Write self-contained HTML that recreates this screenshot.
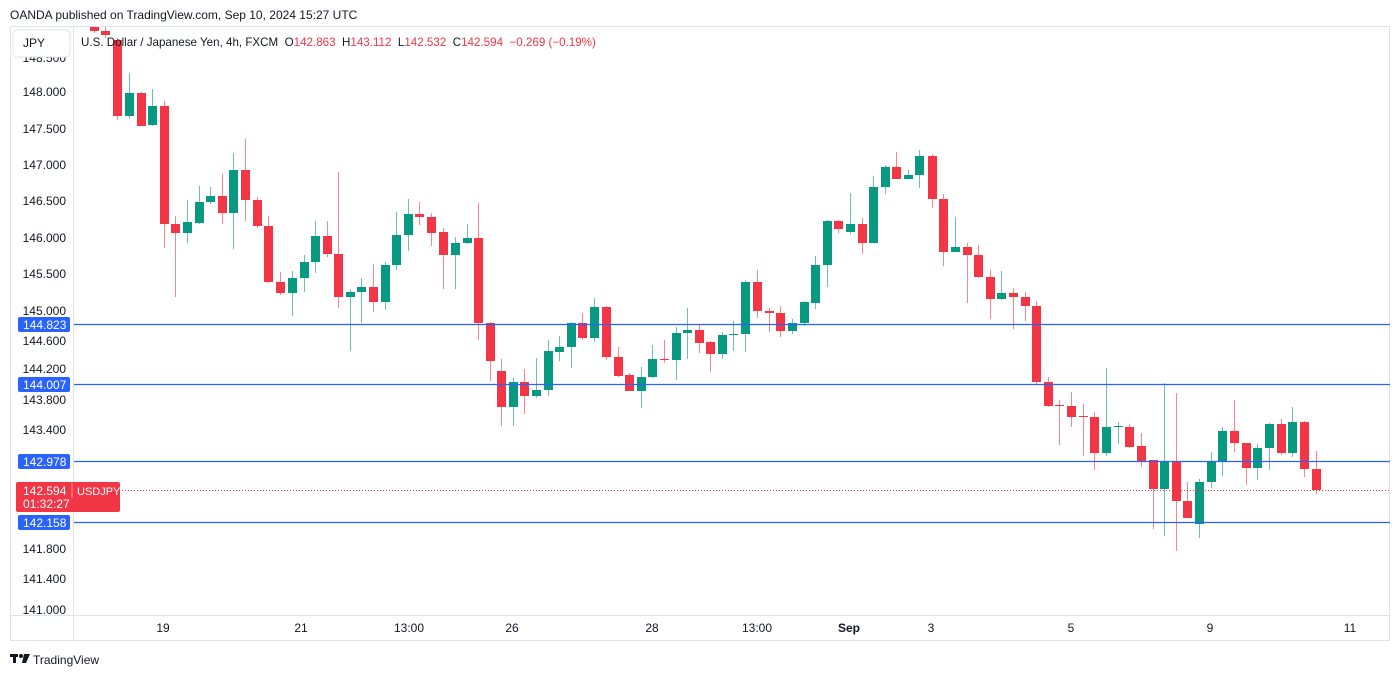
<!DOCTYPE html>
<html><head><meta charset="utf-8">
<style>
html,body{margin:0;padding:0;background:#fff;}
body{width:1400px;height:676px;position:relative;overflow:hidden;font-family:"Liberation Sans",sans-serif;}
svg{position:absolute;left:0;top:0;}
</style></head><body>
<svg id="s" width="1400" height="676" xmlns="http://www.w3.org/2000/svg" font-family="Liberation Sans, sans-serif">
<text x="10" y="19" font-size="12" fill="#131722">OANDA published on TradingView.com, Sep 10, 2024 15:27 UTC</text>
<rect x="10.5" y="26.5" width="1379" height="614" fill="none" stroke="#e0e3eb"/>
<line x1="73.5" y1="27" x2="73.5" y2="640" stroke="#e0e3eb"/>
<line x1="10" y1="615.5" x2="1390" y2="615.5" stroke="#e0e3eb"/>
<g id="c"></g>
<g stroke="#2962ff" stroke-width="1.2">
<line x1="74" y1="324.5" x2="1390" y2="324.5"/>
<line x1="74" y1="384.5" x2="1390" y2="384.5"/>
<line x1="74" y1="461.5" x2="1390" y2="461.5"/>
<line x1="74" y1="522.5" x2="1390" y2="522.5"/>
</g>
<line x1="74" y1="490.5" x2="1390" y2="490.5" stroke="#f23645" stroke-dasharray="1,2"/>
<g font-size="12" fill="#131722" text-anchor="end">
<text x="66" y="62">148.500</text>
<text x="66" y="96">148.000</text><text x="66" y="133">147.500</text><text x="66" y="169">147.000</text>
<text x="66" y="205">146.500</text><text x="66" y="242">146.000</text><text x="66" y="278">145.500</text>
<text x="66" y="315">145.000</text><text x="66" y="345">144.600</text><text x="66" y="373">144.200</text>
<text x="66" y="404">143.800</text><text x="66" y="434">143.400</text><text x="66" y="553">141.800</text>
<text x="66" y="583">141.400</text><text x="66" y="614">141.000</text>
</g>
<rect x="13" y="30" width="57" height="27" rx="4" fill="#fff" stroke="#e0e3eb"/>
<text x="23" y="47" font-size="12" fill="#131722">JPY</text>
<g font-size="12" fill="#fff">
<rect x="18" y="317" width="52" height="15" rx="2" fill="#2962ff"/><text x="23" y="329">144.823</text>
<rect x="18" y="377" width="52" height="15" rx="2" fill="#2962ff"/><text x="23" y="389">144.007</text>
<rect x="18" y="454" width="52" height="15" rx="2" fill="#2962ff"/><text x="23" y="466">142.978</text>
<rect x="18" y="515" width="52" height="15" rx="2" fill="#2962ff"/><text x="23" y="527">142.158</text>
<rect x="16" y="482" width="104" height="30" rx="2" fill="#f23645"/>
<text x="23" y="495">142.594</text><text x="77" y="495" font-size="11">USDJPY</text><text x="23" y="508">01:32:27</text>
<line x1="72" y1="483" x2="72" y2="498" stroke="#fff" stroke-opacity="0.5"/>
</g>
<text x="81" y="46" font-size="11.6" fill="#131722" xml:space="preserve">U.S. Dollar / Japanese Yen, 4h, FXCM  O<tspan fill="#f23645">142.863</tspan>  H<tspan fill="#f23645">143.112</tspan>  L<tspan fill="#f23645">142.532</tspan>  C<tspan fill="#f23645">142.594</tspan>  <tspan fill="#f23645">−0.269 (−0.19%)</tspan></text>
<g font-size="12" fill="#131722" text-anchor="middle">
<text x="163" y="632">19</text><text x="301" y="632">21</text><text x="409" y="632">13:00</text>
<text x="512" y="632">26</text><text x="652" y="632">28</text><text x="757" y="632">13:00</text>
<text x="849" y="632" font-weight="bold">Sep</text><text x="931" y="632">3</text><text x="1071" y="632">5</text>
<text x="1210" y="632">9</text><text x="1350" y="632">11</text>
</g>
<g fill="#131722"><rect x="10" y="654" width="8" height="3"/><rect x="13" y="654" width="3" height="9"/><circle cx="21" cy="656" r="2"/><path d="M24 654 L30 654 L26 663 L22 663 Z"/></g>
<text x="33" y="664" font-size="12" fill="#131722">TradingView</text>
</svg>
<script>
var z1=[[57,27,31,24,33,0],[91,31,35,26,38,0],[125,40,116,38,120,0],[162,93,116,73,119,1],[197,93,126,92,126,0],[231,106,125,89,126,1],[267,106,224,101,248,0],[301,224,233,216,297,0],[336,222,233,200,243,1],[371,202,223,186,224,1],[405,196,202,187,204,1],[440,196,213,174,224,0],[475,170,213,153,249,1],[510,170,200,139,221,0],[545,200,226,197,228,0],[580,226,282,216,283,0],[614,282,293,272,295,0],[651,278,293,271,316,1],[686,262,278,255,292,1],[720,236,262,221,273,1],[755,236,254,221,257,0],[790,254,297,172,308,0],[825,292,297,289,351,1],[859,287,292,278,323,1],[894,287,302,264,312,0],[929,265,302,262,310,1],[964,235,265,212,270,1],[999,214,235,199,251,1],[1033,214,217,202,225,0],[1068,217,233,213,246,0],[1103,232,255,228,289,0],[1139,243,255,237,289,1],[1175,238,243,224,244,1],[1210,238,323,203,340,0],[1244,323,361,322,381,0]];
var z2=[[63,371,407,359,426,0],[98,382,407,378,426,1],[133,382,396,369,414,0],[168,390,396,358,398,1],[203,351,390,340,396,1],[237,347,352,336,361,1],[272,323,347,322,368,1],[307,323,338,313,340,0],[341,307,338,298,342,1],[378,307,357,306,360,0],[413,357,376,347,377,0],[447,375,391,373,391,0],[482,377,391,367,408,1],[517,359,377,345,378,1],[552,359,360,340,363,0],[587,333,360,327,380,1],[621,330,333,308,359,1],[656,330,343,324,353,0],[691,342,354,341,372,0],[725,335,354,332,359,1],[760,334,335,321,351,1],[795,282,334,280,352,1],[830,282,311,270,318,0],[866,311,313,308,332,0],[901,313,331,306,337,0],[936,323,331,319,334,1],[971,302,323,301,326,1],[1006,265,303,256,309,1],[1041,221,265,220,287,1],[1075,221,229,220,233,0],[1110,224,232,193,234,1],[1145,224,243,218,254,0],[1180,187,243,176,243,1],[1214,167,187,165,194,1],[1249,167,179,152,179,0],[1284,175,179,170,179,1],[1318,156,175,150,188,1],[1355,156,199,154,208,0]];
var z3=[[70,199,252,194,266,0],[105,247,252,217,252,1],[140,247,255,243,303,0],[175,255,277,245,278,0],[210,277,299,270,319,0],[244,293,299,271,300,1],[279,293,297,288,329,0],[314,297,306,292,321,0],[348,306,382,301,384,0],[383,382,406,377,407,0],[418,405,406,400,445,0],[453,406,417,392,427,0],[489,416,417,404,456,0],[523,417,453,412,470,0],[559,427,453,368,456,1],[593,426,427,422,444,1],[628,427,447,424,448,0],[663,446,461,433,467,0],[698,460,489,460,529,0],[733,461,489,383,536,1],[768,461,501,393,551,0],[802,501,518,482,518,0],[837,482,524,479,538,1],[872,461,482,452,488,1],[906,431,462,427,476,1],[941,431,443,400,452,0],[977,443,468,443,485,0],[1012,448,468,444,480,1],[1047,424,448,423,470,1],[1082,424,453,419,455,0],[1117,422,453,407,457,1],[1152,422,469,421,477,0],[1187,469,490,451,494,0]];
var all=[];
z1.forEach(function(c){all.push([75+c[0]/3].concat(c.slice(1)));});
z2.forEach(function(c){all.push([480+c[0]/3].concat(c.slice(1)));});
z3.forEach(function(c){all.push([920+c[0]/3].concat(c.slice(1)));});
var h='';
all.forEach(function(c){
 var x=Math.round(c[0]),col=c[5]?'#089981':'#f23645';
 var top=Math.max(c[1],27),hi=Math.max(c[3],27);
 h+='<rect x="'+x+'" y="'+hi+'" width="1" height="'+Math.max(1,c[4]-hi)+'" fill="'+col+'" fill-opacity="0.6"/>';
 h+='<rect x="'+(x-4)+'" y="'+top+'" width="9" height="'+Math.max(1,c[2]-top)+'" fill="'+col+'"/>';
});
document.getElementById('c').innerHTML=h;
</script>
</body></html>
